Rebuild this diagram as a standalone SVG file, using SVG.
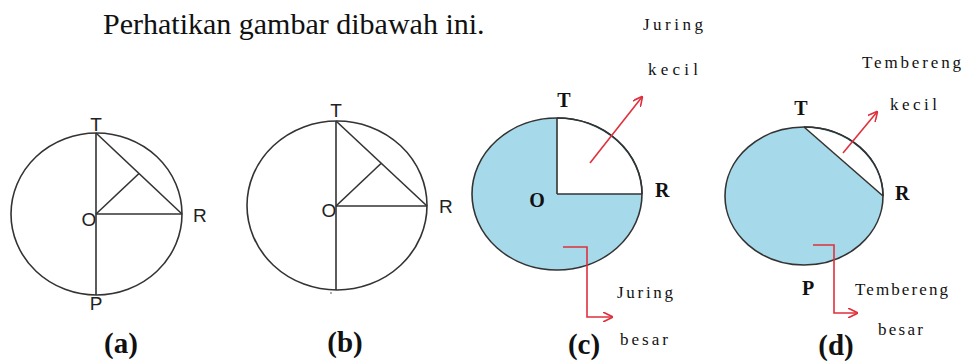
<svg xmlns="http://www.w3.org/2000/svg" width="963" height="361" viewBox="0 0 963 361">
<style>
.bg{fill:#ffffff}
.title{font-family:"Liberation Serif",serif;font-size:30px;fill:#111}
.cap{font-family:"Liberation Serif",serif;font-weight:bold;font-size:29px;fill:#111;text-anchor:middle}
.sl{font-family:"Liberation Sans",Arial,sans-serif;font-size:19px;fill:#222}
.bl{font-family:"Liberation Serif",serif;font-weight:bold;font-size:20px;fill:#111}
.note{font-family:"Liberation Serif",serif;font-size:17px;fill:#111}
.ring{fill:none;stroke:#333;stroke-width:1.6}
.ln{stroke:#333;stroke-width:1.6;fill:none}
.blue{fill:#a6d9e9;stroke:#333;stroke-width:1.6}
.wh{fill:#ffffff;stroke:none}
.red{stroke:#e0303c;stroke-width:1.6;fill:none}
</style>
<defs>
<marker id="ah" viewBox="0 0 10 10" refX="9" refY="5" markerWidth="10" markerHeight="10" markerUnits="userSpaceOnUse" orient="auto">
<path d="M0,0 L10,5 L0,10" fill="none" stroke="#e0303c" stroke-width="1.6"/>
</marker>
</defs>
<rect class="bg" x="0" y="0" width="963" height="361"/>
<text class="title" x="103" y="34">Perhatikan gambar dibawah ini.</text>

<g id="fig-a">
<ellipse class="ring" cx="96.5" cy="214" rx="85.5" ry="81"/>
<text class="sl" x="96" y="131" text-anchor="middle">T</text>
<text class="sl" x="89" y="226" text-anchor="middle">O</text>
<text class="sl" x="193" y="222">R</text>
<text class="sl" x="96" y="310" text-anchor="middle">P</text>
<text class="cap" x="121" y="353">(a)</text>
</g>

<g id="fig-b">
<ellipse class="ring" cx="337" cy="205.5" rx="90" ry="84.5"/>
<circle cx="331" cy="293" r="0.8" fill="#444"/>
<text class="sl" x="336" y="117" text-anchor="middle">T</text>
<text class="sl" x="329" y="217" text-anchor="middle">O</text>
<text class="sl" x="439" y="213">R</text>
<text class="cap" x="345" y="352">(b)</text>
</g>

<g id="fig-c">
<ellipse class="blue" cx="557" cy="194" rx="85" ry="76"/>
<path class="wh" d="M557,194 L557,118.8 A85,76 0 0 1 641.2,194 Z"/>
<path class="ring" d="M557,118 A85,76 0 0 1 642,194"/>
<text class="bl" x="564" y="107" text-anchor="middle">T</text>
<text class="bl" x="537" y="207" text-anchor="middle">O</text>
<text class="bl" x="655" y="197">R</text>
<text class="note" x="643" y="30" textLength="60" lengthAdjust="spacing">Juring</text>
<text class="note" x="648" y="75" textLength="50" lengthAdjust="spacing">kecil</text>
<text class="note" x="617" y="298" textLength="56" lengthAdjust="spacing">Juring</text>
<text class="note" x="620" y="345" textLength="48" lengthAdjust="spacing">besar</text>
<text class="cap" x="584" y="354">(c)</text>
</g>

<g id="fig-d">
<ellipse class="blue" cx="804" cy="196" rx="79" ry="69"/>
<path class="wh" d="M804,127.8 A79,69 0 0 1 882.2,196 Z"/>
<path class="ring" d="M804,127 A79,69 0 0 1 883,196"/>
<text class="bl" x="801" y="115" text-anchor="middle">T</text>
<text class="bl" x="895" y="200">R</text>
<text class="bl" x="802" y="295">P</text>
<text class="note" x="862" y="68" textLength="99" lengthAdjust="spacing">Tembereng</text>
<text class="note" x="890" y="110" textLength="47" lengthAdjust="spacing">kecil</text>
<text class="note" x="855" y="295" textLength="93" lengthAdjust="spacing">Tembereng</text>
<text class="note" x="878" y="335" textLength="45" lengthAdjust="spacing">besar</text>
<text class="cap" x="836" y="355">(d)</text>
</g>

<g id="connectors">
<line class="ln" x1="96" y1="133" x2="96" y2="295"/>
<line class="ln" x1="96" y1="214" x2="182" y2="214"/>
<line class="ln" x1="96" y1="133" x2="182" y2="214"/>
<line class="ln" x1="96" y1="214" x2="139" y2="173.5"/>
<line class="ln" x1="336" y1="121" x2="336" y2="290"/>
<line class="ln" x1="336" y1="206" x2="427" y2="206"/>
<line class="ln" x1="336" y1="121" x2="427" y2="206"/>
<line class="ln" x1="336" y1="206" x2="381" y2="163.5"/>
<line class="ln" x1="557" y1="194" x2="557" y2="118"/>
<line class="ln" x1="557" y1="194" x2="642" y2="194"/>
<line class="ln" x1="804" y1="127" x2="883" y2="196"/>
<line class="red" x1="590" y1="163" x2="642" y2="97" marker-end="url(#ah)"/>
<polyline class="red" points="563,247 587,247 587,317 612,317" marker-end="url(#ah)"/>
<line class="red" x1="843" y1="153" x2="877" y2="112" marker-end="url(#ah)"/>
<polyline class="red" points="813,245 834,245 834,313 857,313" marker-end="url(#ah)"/>
</g>
</svg>
